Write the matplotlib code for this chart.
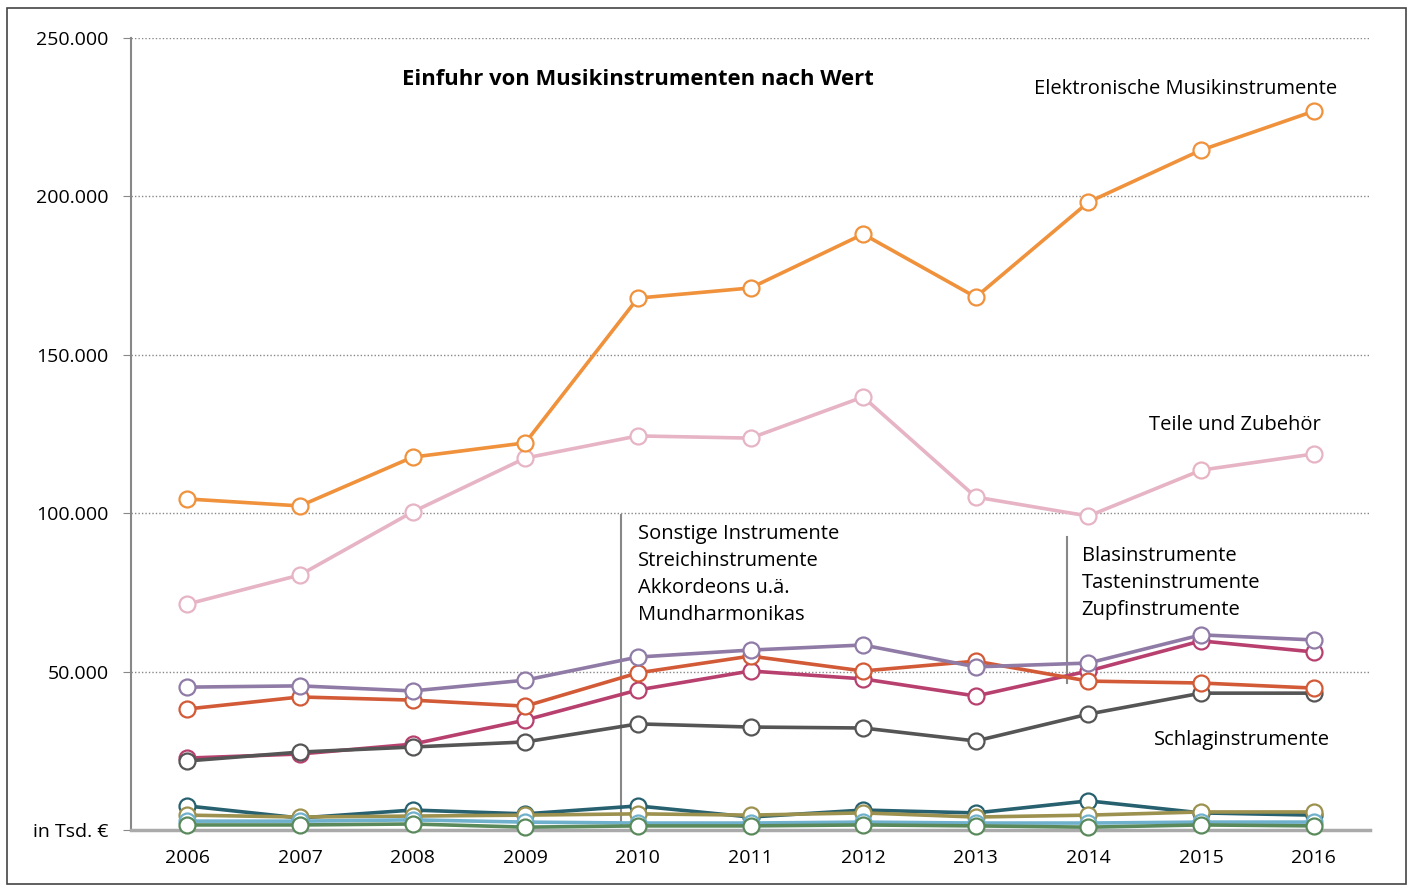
import matplotlib
matplotlib.use("Agg")
import matplotlib.pyplot as plt
from matplotlib.patches import Rectangle

plt.rcParams['font.family'] = ['Open Sans', 'DejaVu Sans']

years = [2006, 2007, 2008, 2009, 2010, 2011, 2012, 2013, 2014, 2015, 2016]

# Werte in Tsd. Euro
elektronisch = [104.5, 102.3, 117.7, 122.2, 167.9, 171.1, 188.1, 168.2, 198.2, 214.6, 226.9]
teile = [71.3, 80.5, 100.4, 117.4, 124.4, 123.7, 136.7, 105.1, 99.1, 113.6, 118.7]
zupf = [45.1, 45.5, 43.9, 47.3, 54.6, 56.8, 58.4, 51.5, 52.7, 61.6, 60.0]
blas = [38.2, 42.0, 41.0, 39.1, 49.6, 54.9, 50.2, 53.3, 47.0, 46.4, 44.8]
tasten = [22.7, 24.0, 27.1, 34.7, 44.2, 50.2, 47.7, 42.3, 50.2, 59.7, 56.2]
schlag = [21.8, 24.6, 26.2, 27.8, 33.5, 32.5, 32.2, 28.1, 36.6, 43.2, 43.2]
sonstige = [7.6, 3.8, 6.3, 5.1, 7.6, 4.1, 6.3, 5.4, 9.2, 5.4, 4.7]
streich = [4.7, 4.1, 4.4, 4.7, 5.1, 4.7, 5.4, 4.1, 4.7, 5.7, 5.7]
akkordeon = [2.8, 2.8, 3.2, 2.5, 2.2, 2.2, 2.5, 2.2, 2.2, 2.5, 2.5]
mundharmonika = [1.6, 1.6, 1.9, 0.9, 1.3, 1.3, 1.6, 1.3, 0.9, 1.6, 1.3]

# Zeichenreihenfolge: zuerst gezeichnete Reihen liegen hinten
series = [
    (sonstige, '#27606f'),
    (streich, '#9c914e'),
    (akkordeon, '#6fb0cc'),
    (mundharmonika, '#5a8a5c'),
    (tasten, '#b8406f'),
    (schlag, '#555555'),
    (blas, '#d25a37'),
    (zupf, '#8f7ba6'),
    (teile, '#e6b4c4'),
    (elektronisch, '#f0913b'),
]

yticks = [0, 50, 100, 150, 200, 250]
ytick_labels = ['in Tsd. €', '50.000', '100.000', '150.000', '200.000', '250.000']

fig = plt.figure(figsize=(14.13, 8.9), dpi=100)
ax = fig.add_axes([0.0927, 0.0674, 0.8769, 0.8899])

# Rahmen um die ganze Grafik
fig.patches.append(Rectangle((0.005, 0.007), 0.99, 0.984, transform=fig.transFigure,
                             fill=False, edgecolor='#444444', linewidth=1.2))

for vals, color in series:
    ax.plot(years, [v * 1000 for v in vals], color=color, linewidth=2.6,
            marker='o', markersize=11.5, markerfacecolor='white',
            markeredgecolor=color, markeredgewidth=1.6, clip_on=False, zorder=3)

ax.set_xlim(2005.5, 2016.5)
ax.set_ylim(0, 250000)
ax.set_xticks(years)
ax.set_xticklabels([str(y) for y in years], fontsize=14)
ax.set_yticks([t * 1000 for t in yticks])
ax.set_yticklabels(ytick_labels, fontsize=14)
ax.tick_params(axis='x', length=0, pad=14)
ax.tick_params(axis='y', length=6, color='#888888', pad=10)

ax.grid(axis='y', linestyle=(0, (1, 1.5)), color='#888888', linewidth=1)
ax.set_axisbelow(True)
for s in ['top', 'right']:
    ax.spines[s].set_visible(False)
ax.spines['left'].set_color('#888888')
ax.spines['left'].set_linewidth(1.5)
ax.spines['bottom'].set_color('#aaaaaa')
ax.spines['bottom'].set_linewidth(2.5)

ax.text(2010.0, 236800, 'Einfuhr von Musikinstrumenten nach Wert', ha='center', va='center',
        fontsize=15.8, fontweight='bold')
ax.text(2016.21, 234000, 'Elektronische Musikinstrumente', ha='right', va='center', fontsize=14.5)
ax.text(2016.06, 128000, 'Teile und Zubehör', ha='right', va='center', fontsize=14.5)
ax.text(2014.58, 28300, 'Schlaginstrumente', ha='left', va='center', fontsize=14.5)

ax.text(2010.0, 96500, 'Sonstige Instrumente\nStreichinstrumente\nAkkordeons u.ä.\nMundharmonikas',
        ha='left', va='top', fontsize=14.5, linespacing=1.45)
ax.plot([2009.85, 2009.85], [1600, 99400], color='#888888', linewidth=1.5, zorder=2)

ax.text(2013.94, 89500, 'Blasinstrumente\nTasteninstrumente\nZupfinstrumente',
        ha='left', va='top', fontsize=14.5, linespacing=1.45)
ax.plot([2013.81, 2013.81], [46400, 92500], color='#888888', linewidth=1.5, zorder=2)

fig.savefig('out.png', dpi=100)
